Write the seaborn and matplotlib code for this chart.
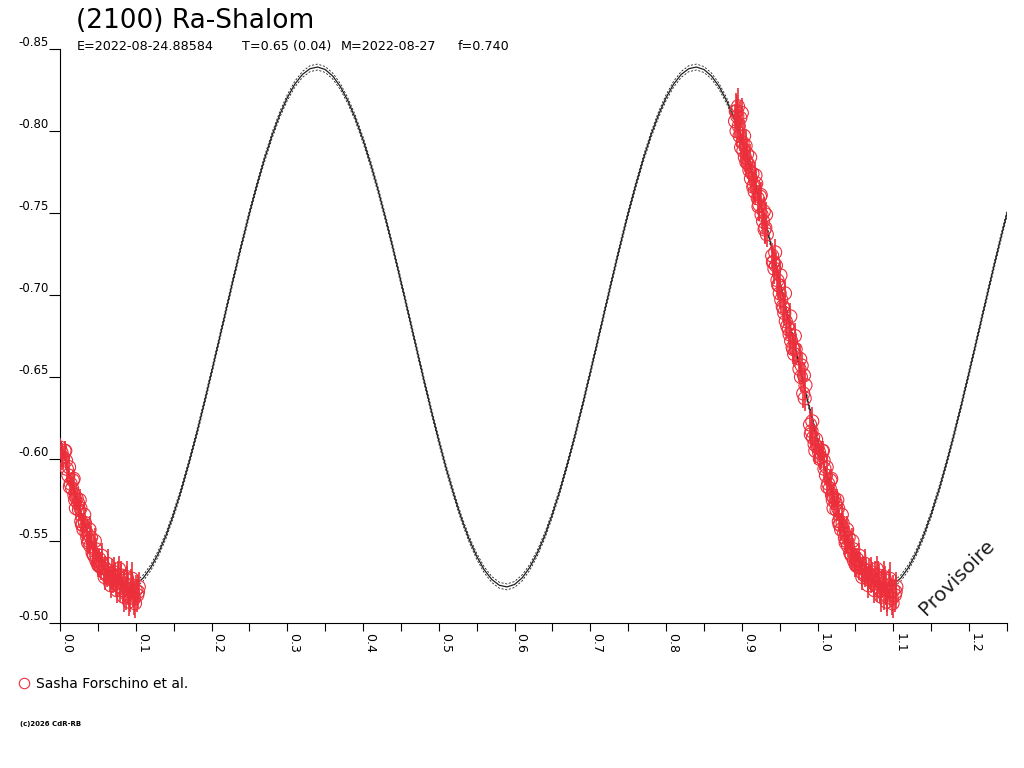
import numpy as np
import pandas as pd
import matplotlib
matplotlib.use("Agg")
import matplotlib.pyplot as plt
import seaborn as sns
from matplotlib.lines import Line2D
from matplotlib.ticker import MultipleLocator

# ---------------- texts ----------------
title = "(2100) Ra-Shalom"
info_fields = ["E=2022-08-24.88584", "T=0.65 (0.04)", "M=2022-08-27", "f=0.740"]
observer = "Sasha Forschino et al."
stamp = "Provisoire"
copyright_text = "(c)2026 CdR-RB"

# ---------------- axes ----------------
x_ticks = [0.0, 0.1, 0.2, 0.3, 0.4, 0.5, 0.6, 0.7, 0.8, 0.9, 1.0, 1.1, 1.2]
x_tick_labels = ["0.0", "0.1", "0.2", "0.3", "0.4", "0.5", "0.6",
                 "0.7", "0.8", "0.9", "1.0", "1.1", "1.2"]
y_ticks = [-0.85, -0.80, -0.75, -0.70, -0.65, -0.60, -0.55, -0.50]
y_tick_labels = ["-0.85", "-0.80", "-0.75", "-0.70", "-0.65", "-0.60", "-0.55", "-0.50"]

# ---------------- fitted light curve (every 0.01 in phase) ----------------
fit_phase = [round(0.01 * i, 2) for i in range(126)]   # 0.00 ... 1.25
fit_mag = [
    -0.6112, -0.5939, -0.5780, -0.5636, -0.5511, -0.5407, -0.5324, -0.5265, -0.5230, -0.5220,
    -0.5235, -0.5275, -0.5339, -0.5426, -0.5534, -0.5664, -0.5810, -0.5973, -0.6148, -0.6334,
    -0.6528, -0.6725, -0.6924, -0.7122, -0.7314, -0.7498, -0.7671, -0.7830, -0.7974, -0.8099,
    -0.8203, -0.8286, -0.8345, -0.8380, -0.8390, -0.8375, -0.8335, -0.8271, -0.8184, -0.8076,
    -0.7946, -0.7800, -0.7637, -0.7462, -0.7276, -0.7082, -0.6885, -0.6686, -0.6488, -0.6296,
    -0.6112, -0.5939, -0.5780, -0.5636, -0.5511, -0.5407, -0.5324, -0.5265, -0.5230, -0.5220,
    -0.5235, -0.5275, -0.5339, -0.5426, -0.5534, -0.5664, -0.5810, -0.5973, -0.6148, -0.6334,
    -0.6528, -0.6725, -0.6924, -0.7122, -0.7314, -0.7498, -0.7671, -0.7830, -0.7974, -0.8099,
    -0.8203, -0.8286, -0.8345, -0.8380, -0.8390, -0.8375, -0.8335, -0.8271, -0.8184, -0.8076,
    -0.7946, -0.7800, -0.7637, -0.7462, -0.7276, -0.7082, -0.6885, -0.6686, -0.6488, -0.6296,
    -0.6112, -0.5939, -0.5780, -0.5636, -0.5511, -0.5407, -0.5324, -0.5265, -0.5230, -0.5220,
    -0.5235, -0.5275, -0.5339, -0.5426, -0.5534, -0.5664, -0.5810, -0.5973, -0.6148, -0.6334,
    -0.6528, -0.6725, -0.6924, -0.7122, -0.7314, -0.7498,
]
fit_band = 0.0018

# ---------------- observations (phase, reduced magnitude, error) ----------------
obs_phase = [0.000, 0.002, 0.004, 0.006, 0.008, 0.009, 0.011, 0.012, 0.014, 0.016,
             0.017, 0.019, 0.020, 0.022, 0.024, 0.025, 0.027, 0.028, 0.030, 0.031,
             0.033, 0.035, 0.036, 0.038, 0.040, 0.041, 0.043, 0.045, 0.047, 0.048,
             0.050, 0.052, 0.054, 0.056, 0.058, 0.060, 0.062, 0.064, 0.066, 0.068,
             0.070, 0.072, 0.074, 0.076, 0.078, 0.079, 0.081, 0.083, 0.085, 0.087,
             0.089, 0.090, 0.092, 0.094, 0.096, 0.098, 0.100, 0.102, 0.104,
             0.003, 0.007, 0.013, 0.018, 0.021, 0.026, 0.029, 0.032, 0.037, 0.039,
             0.044, 0.046, 0.051, 0.055, 0.059, 0.063, 0.067, 0.071, 0.075, 0.080,
             0.084, 0.088, 0.091, 0.095, 0.099, 0.103,
             0.891, 0.892, 0.893, 0.894, 0.895, 0.896, 0.897, 0.898, 0.900, 0.901,
             0.902, 0.904, 0.905, 0.907, 0.908, 0.910, 0.912, 0.914, 0.916, 0.917,
             0.919, 0.921, 0.923, 0.924, 0.926, 0.928, 0.929, 0.931, 0.933, 0.940,
             0.942, 0.943, 0.945, 0.947, 0.949, 0.950, 0.952, 0.954, 0.956, 0.958,
             0.960, 0.963, 0.965, 0.967, 0.969, 0.971, 0.976, 0.978, 0.979, 0.981,
             0.983, 0.984, 0.990, 0.992, 0.994, 0.996, 0.998,
             0.893, 0.899, 0.903, 0.906, 0.911, 0.915, 0.918, 0.922, 0.925, 0.930,
             0.932, 0.941, 0.944, 0.948, 0.951, 0.955, 0.957, 0.962, 0.964, 0.968,
             0.970, 0.977, 0.982, 0.991, 0.993, 0.997]
obs_mag = [-0.607, -0.604, -0.601, -0.605, -0.599, -0.594, -0.590, -0.595, -0.585, -0.582,
           -0.587, -0.578, -0.575, -0.576, -0.573, -0.569, -0.570, -0.562, -0.560, -0.557,
           -0.561, -0.555, -0.552, -0.550, -0.547, -0.552, -0.543, -0.541, -0.545, -0.538,
           -0.536, -0.539, -0.534, -0.536, -0.531, -0.533, -0.529, -0.532, -0.527, -0.530,
           -0.526, -0.528, -0.524, -0.529, -0.533, -0.522, -0.527, -0.520, -0.524, -0.518,
           -0.526, -0.521, -0.516, -0.523, -0.519, -0.515, -0.520, -0.517, -0.522,
           -0.600, -0.605, -0.583, -0.588, -0.570, -0.575, -0.560, -0.566, -0.549, -0.557,
           -0.542, -0.550, -0.535, -0.541, -0.528, -0.536, -0.523, -0.531, -0.520, -0.529,
           -0.516, -0.528, -0.513, -0.527, -0.512, -0.519,
           -0.806, -0.812, -0.800, -0.809, -0.815, -0.803, -0.797, -0.808, -0.811, -0.793,
           -0.788, -0.784, -0.791, -0.786, -0.780, -0.776, -0.771, -0.774, -0.767, -0.763,
           -0.768, -0.759, -0.755, -0.760, -0.749, -0.745, -0.751, -0.741, -0.737, -0.724,
           -0.720, -0.716, -0.718, -0.709, -0.706, -0.701, -0.697, -0.693, -0.689, -0.684,
           -0.681, -0.676, -0.672, -0.668, -0.664, -0.667, -0.655, -0.650, -0.657, -0.640,
           -0.637, -0.645, -0.621, -0.617, -0.613, -0.609, -0.612,
           -0.812, -0.790, -0.797, -0.781, -0.784, -0.766, -0.773, -0.754, -0.761, -0.740,
           -0.749, -0.720, -0.726, -0.706, -0.712, -0.692, -0.701, -0.679, -0.687, -0.667,
           -0.675, -0.661, -0.651, -0.615, -0.623, -0.605]
obs_err = [0.006, 0.006, 0.007, 0.006, 0.006, 0.007, 0.006, 0.007, 0.006, 0.007,
           0.006, 0.007, 0.006, 0.007, 0.006, 0.007, 0.007, 0.006, 0.007, 0.007,
           0.006, 0.007, 0.007, 0.006, 0.007, 0.007, 0.007, 0.008, 0.007, 0.007,
           0.008, 0.007, 0.008, 0.007, 0.008, 0.008, 0.007, 0.008, 0.008, 0.009,
           0.008, 0.009, 0.008, 0.009, 0.008, 0.009, 0.009, 0.008, 0.009, 0.010,
           0.009, 0.010, 0.009, 0.010, 0.009, 0.010, 0.009, 0.010, 0.009,
           0.007, 0.006, 0.007, 0.006, 0.007, 0.007, 0.006, 0.007, 0.007, 0.008,
           0.007, 0.008, 0.007, 0.008, 0.008, 0.009, 0.008, 0.009, 0.008, 0.009,
           0.009, 0.010, 0.009, 0.010, 0.009, 0.010,
           0.010, 0.011, 0.010, 0.009, 0.011, 0.010, 0.009, 0.010, 0.009, 0.009,
           0.010, 0.009, 0.010, 0.009, 0.009, 0.008, 0.009, 0.008, 0.009, 0.008,
           0.009, 0.008, 0.009, 0.008, 0.009, 0.008, 0.009, 0.009, 0.008, 0.008,
           0.008, 0.009, 0.008, 0.009, 0.008, 0.009, 0.008, 0.009, 0.008, 0.009,
           0.008, 0.009, 0.008, 0.009, 0.008, 0.009, 0.008, 0.009, 0.008, 0.009,
           0.008, 0.009, 0.008, 0.008, 0.009, 0.008, 0.008,
           0.010, 0.009, 0.010, 0.009, 0.008, 0.009, 0.008, 0.009, 0.008, 0.009,
           0.008, 0.009, 0.008, 0.009, 0.008, 0.009, 0.008, 0.009, 0.008, 0.009,
           0.008, 0.009, 0.008, 0.008, 0.009, 0.008]

# ---------------- style ----------------
RED = "#EC2F3B"
INK = "#1E1E1E"
X_MAX = 1.25

sns.set_style("ticks", {"axes.edgecolor": "black", "xtick.color": "black",
                        "ytick.color": "black", "text.color": "black"})
plt.rcParams["font.family"] = ["DejaVu Sans"]

fig = plt.figure(figsize=(10.24, 7.68), dpi=100)
W, H = 1024, 768
ax = fig.add_axes([60 / W, 1 - 623 / H, 947 / W, 574 / H])

# data frames: observations repeated one cycle later when inside the window
obs = pd.DataFrame({"phase": obs_phase, "mag": obs_mag, "err": obs_err})
obs_next = obs[obs["phase"] + 1 <= X_MAX].assign(phase=lambda d: d["phase"] + 1)
obs_all = pd.concat([obs, obs_next], ignore_index=True)

fit = pd.DataFrame({"phase": fit_phase, "mag": fit_mag})
fit_hi = fit.assign(mag=fit["mag"] - fit_band)
fit_lo = fit.assign(mag=fit["mag"] + fit_band)

# fitted curve and its envelope (drawn below the observations)
for band in (fit_hi, fit_lo):
    sns.lineplot(data=band, x="phase", y="mag", ax=ax, color=INK, lw=0.6,
                 linestyle=(0, (2.5, 2)), sort=False, zorder=2)
sns.lineplot(data=fit, x="phase", y="mag", ax=ax, color=INK, lw=0.9,
             sort=False, zorder=2)

# error bars
ax.errorbar(obs_all["phase"], obs_all["mag"], yerr=obs_all["err"], fmt="none",
            ecolor=RED, elinewidth=1.2, capsize=0, zorder=3)
# open circles
sns.scatterplot(data=obs_all, x="phase", y="mag", ax=ax, marker="o", s=88,
                facecolor="none", edgecolor=RED, linewidth=0.8, zorder=3,
                legend=False)

# axes
ax.set_xlim(0, X_MAX)
ax.set_ylim(-0.50, -0.85)
ax.set_xlabel("")
ax.set_ylabel("")
ax.set_xticks(x_ticks)
ax.set_xticklabels(x_tick_labels, rotation=-90, ha="left", va="top", fontsize=9)
ax.xaxis.set_minor_locator(MultipleLocator(0.05))
ax.tick_params(axis="x", which="both", length=5.8, width=0.8, direction="out", pad=1.5)
ax.set_yticks(y_ticks)
ax.set_yticklabels(y_tick_labels, va="bottom", fontsize=8.5)
ax.tick_params(axis="y", which="both", length=7.9, width=0.8, direction="out", pad=0.5)
sns.despine(ax=ax)
for sp in ("left", "bottom"):
    ax.spines[sp].set_linewidth(0.8)
    ax.spines[sp].set_color("black")

# titles
fig.text(76 / W, 1 - 28.5 / H, title, fontsize=19, va="baseline", ha="left")
for txt, xp in zip(info_fields, [77, 242, 341, 458]):
    fig.text(xp / W, 1 - 50 / H, txt, fontsize=9.2, va="baseline", ha="left")

# watermark
fig.text(957 / W, 1 - 577 / H, stamp, fontsize=14.5, rotation=45,
         ha="center", va="center", rotation_mode="anchor", color="#222222")

# legend
handle = Line2D([], [], marker="o", ls="none", mfc="none", mec=RED, mew=0.8, ms=7.5)
fig.legend(handles=[handle], labels=[observer], loc="center left",
           bbox_to_anchor=(17 / W, 1 - 684 / H), frameon=False, fontsize=10,
           handlelength=1.0, handletextpad=0.35, borderpad=0, borderaxespad=0)

fig.text(20 / W, 1 - 724 / H, copyright_text, fontsize=5, fontweight="bold",
         va="center", ha="left")

fig.savefig("out.png", dpi=100)
